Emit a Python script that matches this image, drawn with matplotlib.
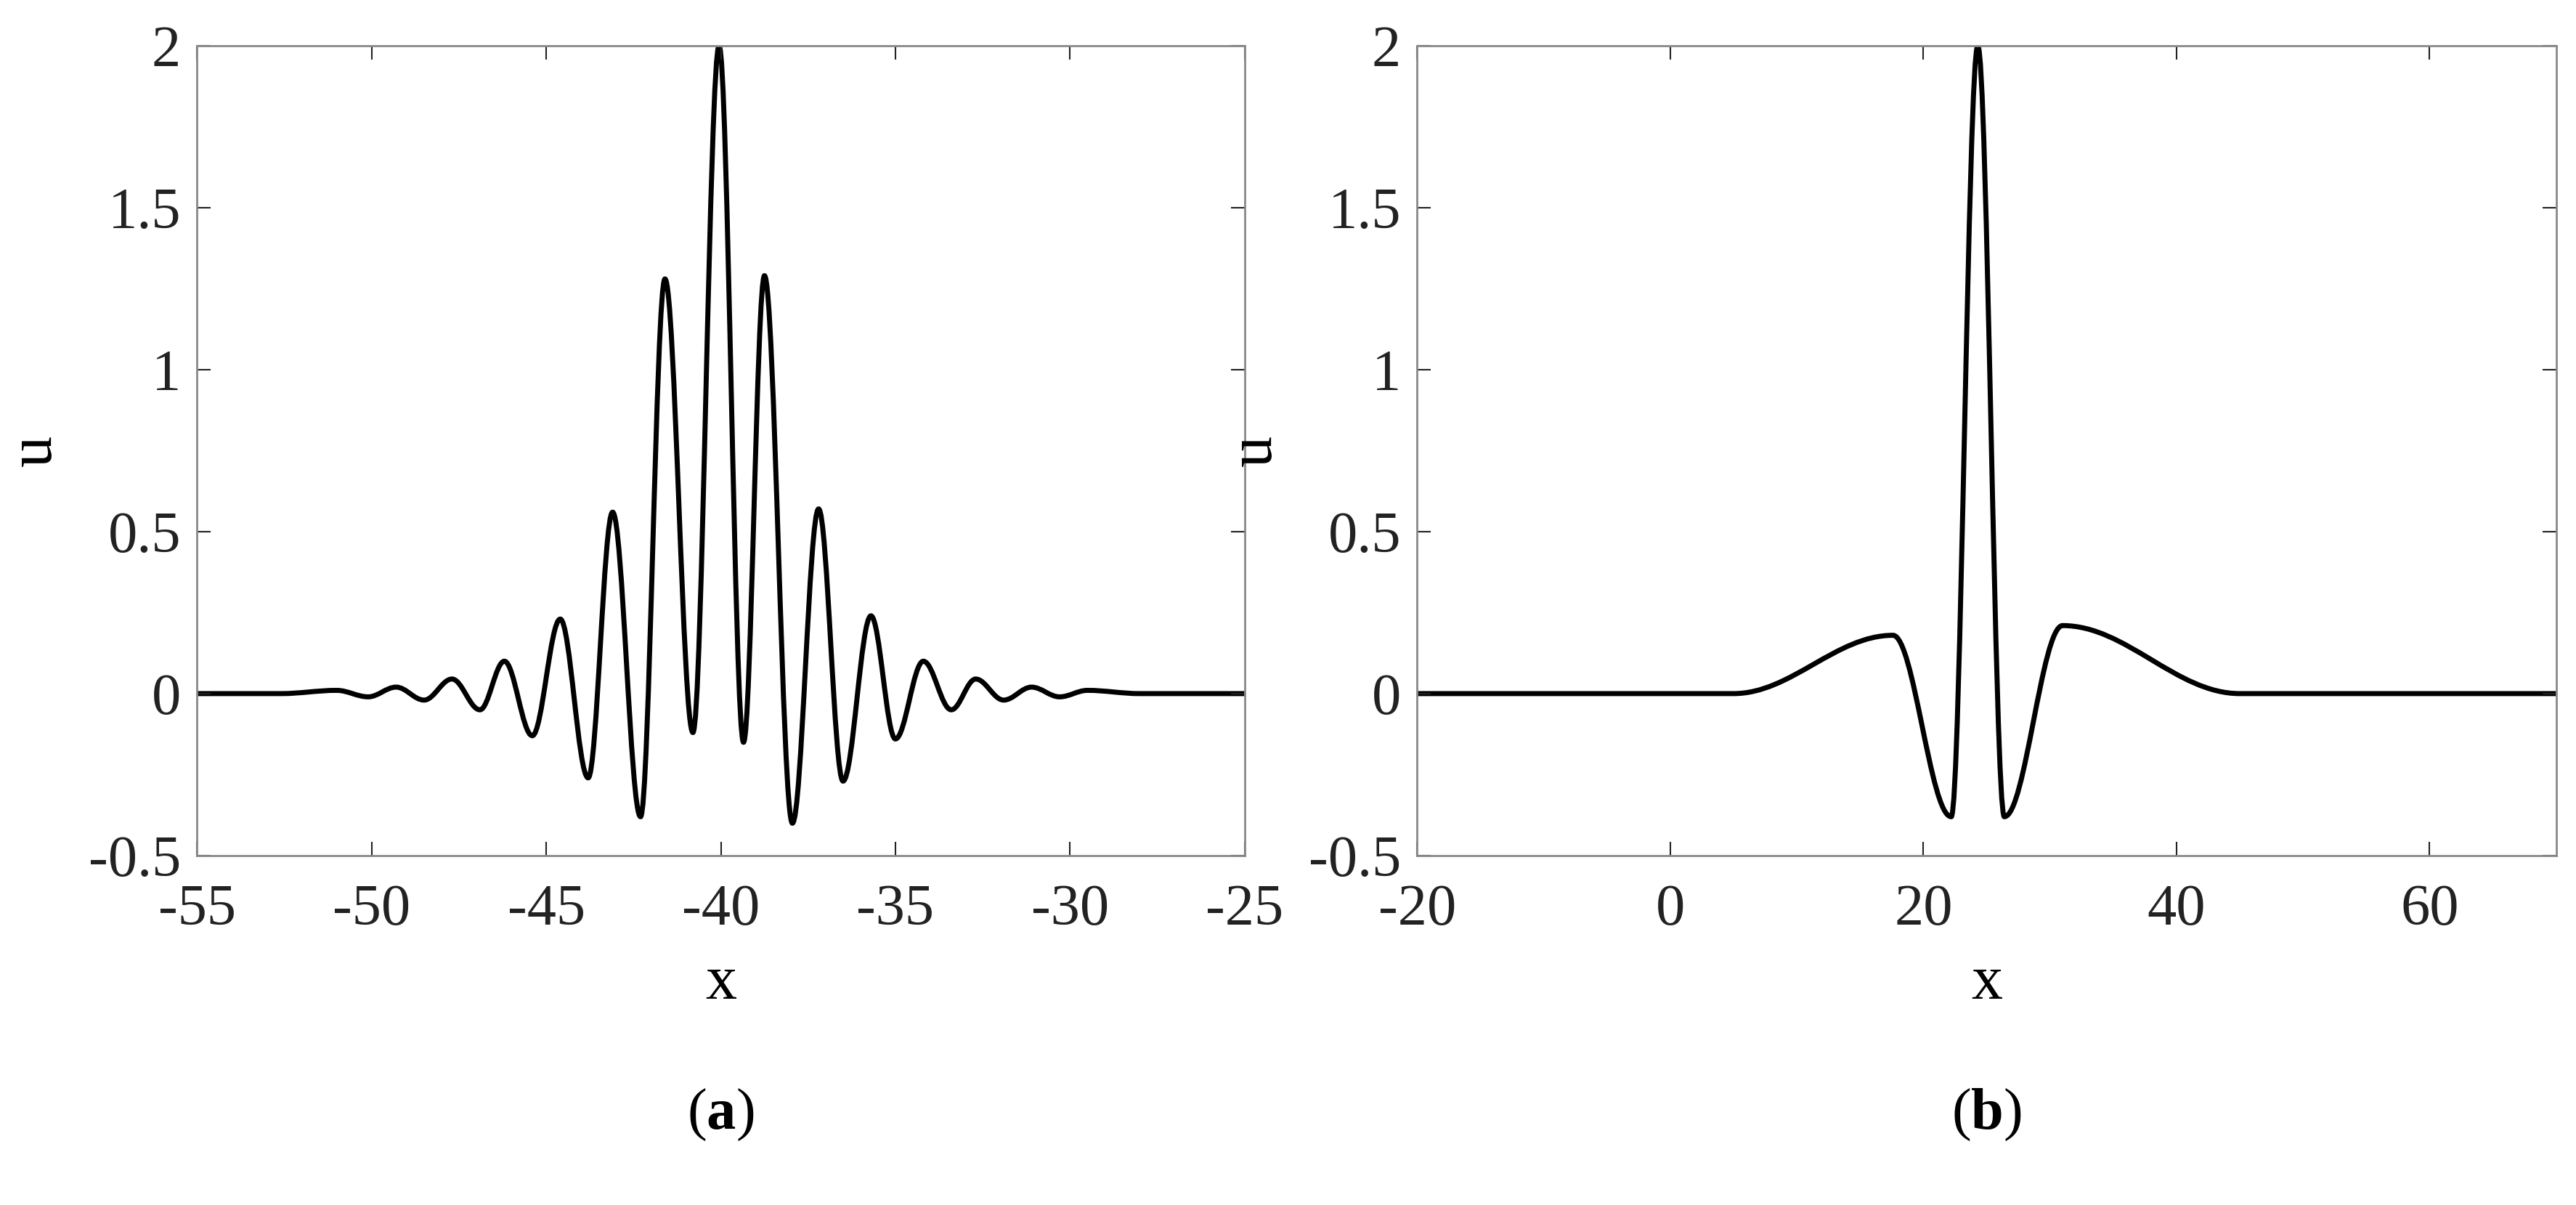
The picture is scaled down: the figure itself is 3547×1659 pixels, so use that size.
import matplotlib
matplotlib.use("Agg")
import matplotlib.pyplot as plt
from matplotlib.path import Path
from matplotlib.patches import PathPatch

# extrema of panel (a)
ax_x = [-55, -52.6, -51.0, -50.1, -49.3, -48.5, -47.7, -46.9, -46.2, -45.4, -44.6,
        -43.8, -43.1, -42.3, -41.6, -40.8, -40.05, -39.35, -38.75, -37.95, -37.2,
        -36.5, -35.7, -35.0, -34.2, -33.4, -32.7, -31.9, -31.1, -30.3, -29.5, -28.0, -25]
ax_y = [0, 0, 0.01, -0.01, 0.02, -0.02, 0.045, -0.05, 0.10, -0.13, 0.23,
        -0.26, 0.56, -0.38, 1.28, -0.12, 2.0, -0.15, 1.29, -0.40, 0.57,
        -0.27, 0.24, -0.14, 0.10, -0.05, 0.045, -0.02, 0.02, -0.01, 0.01, 0, 0]

# extrema of panel (b)
bx_x = [-20, 5, 17.6, 22.2, 24.3, 26.4, 31.0, 45, 70]
bx_y = [0, 0, 0.18, -0.38, 2.0, -0.38, 0.21, 0, 0]

a_ticks = [-55, -50, -45, -40, -35, -30, -25]
b_ticks = [-20, 0, 20, 40, 60]
y_ticks = [-0.5, 0, 0.5, 1, 1.5, 2]
y_labels = ["-0.5", "0", "0.5", "1", "1.5", "2"]

plt.rcParams['font.family'] = ['Liberation Serif', 'DejaVu Serif']
plt.rcParams['mathtext.fontset'] = 'custom'
plt.rcParams['mathtext.bf'] = 'Liberation Serif:bold'
plt.rcParams['mathtext.rm'] = 'Liberation Serif'


def smooth_path(xs, ys, k=0.36):
    # cubic Bezier segments with flat tangents at each extremum
    verts = [(xs[0], ys[0])]
    codes = [Path.MOVETO]
    for i in range(len(xs) - 1):
        d = xs[i + 1] - xs[i]
        verts += [(xs[i] + k * d, ys[i]), (xs[i + 1] - k * d, ys[i + 1]), (xs[i + 1], ys[i + 1])]
        codes += [Path.CURVE4] * 3
    return Path(verts, codes)


fig = plt.figure(figsize=(35.48, 16.59), dpi=100)
axa = fig.add_axes([0.0765, 0.29, 0.4065, 0.672])
axb = fig.add_axes([0.55, 0.29, 0.442, 0.672])

for ax, xs, ys, xt, xlim, tag in [(axa, ax_x, ax_y, a_ticks, (-55, -25), "a"),
                                  (axb, bx_x, bx_y, b_ticks, (-20, 70), "b")]:
    ax.add_patch(PathPatch(smooth_path(xs, ys), fill=False, lw=5, color='black'))
    ax.set_xlim(*xlim)
    ax.set_ylim(-0.5, 2)
    ax.set_xticks(xt)
    ax.set_xticklabels([str(t) for t in xt])
    ax.set_yticks(y_ticks)
    ax.set_yticklabels(y_labels)
    ax.tick_params(direction='in', length=14, width=1.5, labelsize=58, pad=16,
                   top=True, right=True, colors='#222222')
    ax.tick_params(axis='x', pad=28)
    for s in ax.spines.values():
        s.set_color('#888888')
        s.set_linewidth(2)
    ax.set_xlabel("x", fontsize=62, labelpad=18)
    ax.set_ylabel("u", fontsize=62, labelpad=24)
    xc = ax.get_position().x0 + ax.get_position().width / 2
    fig.text(xc, 0.075, r"($\mathbf{" + tag + r"}$)", fontsize=58, ha='center', va='center')

fig.savefig("out.png", dpi=100)
